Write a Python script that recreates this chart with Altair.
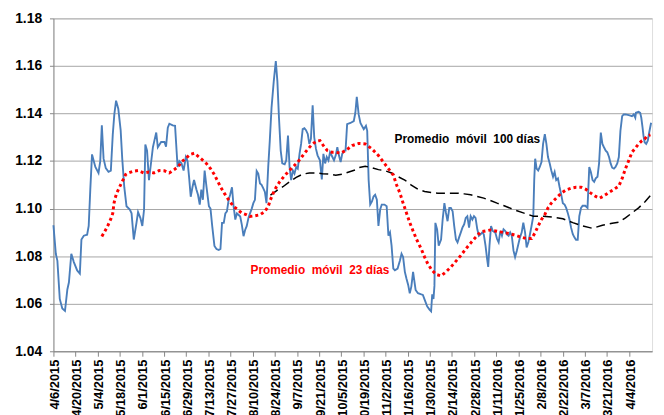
import altair as alt
import pandas as pd

START = pd.Timestamp("2015-04-06")

# (days since 2015-04-06, value)
blue_points = [
    (0, 1.093), (1.5, 1.081), (2.5, 1.078), (4, 1.062), (5.6, 1.058), (7.3, 1.057), (8.8, 1.066), (9.8, 1.069),
    (11.3, 1.081), (12.9, 1.0775), (15, 1.074), (16.7, 1.0727), (17.7, 1.087), (19.2, 1.0886), (21.3, 1.089),
    (22.3, 1.0927), (23.3, 1.108), (24.4, 1.1228), (26.5, 1.1175), (28.5, 1.115), (29.6, 1.120), (30.6, 1.135),
    (31.7, 1.121), (33.1, 1.117), (34.8, 1.1155), (36.3, 1.116), (37.5, 1.131), (38.5, 1.1396), (39.6, 1.1454),
    (41, 1.142), (42.5, 1.133), (43.5, 1.121), (44.8, 1.109), (46.2, 1.101), (48.3, 1.0996), (49.4, 1.098),
    (50.8, 1.087), (52.5, 1.094), (53.5, 1.0985), (55, 1.096), (56.2, 1.0927), (57.3, 1.0996), (58.1, 1.127),
    (59.2, 1.1244), (60.4, 1.112), (61.4, 1.1175), (62.9, 1.1258), (63.9, 1.1288), (65, 1.132), (66, 1.1258),
    (68.1, 1.128), (70.2, 1.128), (71.2, 1.126), (72.3, 1.134), (73.3, 1.1357), (75.4, 1.135), (76.9, 1.1348),
    (78.5, 1.1175), (79.6, 1.120), (81, 1.119), (82.3, 1.116), (83.7, 1.1217), (84.8, 1.120), (85.8, 1.113),
    (86.8, 1.105), (87.9, 1.109), (88.9, 1.112), (90.4, 1.108), (91.4, 1.1058), (92.5, 1.1017), (93.5, 1.108),
    (94.5, 1.1037), (95.6, 1.116), (96.8, 1.109), (98.3, 1.101), (99.3, 1.100), (100.4, 1.0926), (101.8, 1.0843),
    (103.1, 1.083), (104.5, 1.0826), (105.6, 1.083), (106.6, 1.094), (107.7, 1.094), (108.7, 1.098), (109.7, 1.0988),
    (110.8, 1.1037), (111.8, 1.106), (112.9, 1.109), (113.9, 1.101), (115.0, 1.0954), (116.0, 1.098), (117.0, 1.0974),
    (118.1, 1.0967), (119.1, 1.0933), (120.2, 1.0884), (121.2, 1.091), (122.2, 1.0926), (123.3, 1.096), (124.3, 1.098),
    (125.4, 1.100), (126.4, 1.1023), (127.4, 1.1037), (128.5, 1.1158), (129.5, 1.1147), (130.6, 1.1106), (131.6, 1.110),
    (132.7, 1.1085), (133.7, 1.107), (134.7, 1.1023), (135.8, 1.1175), (136.8, 1.1286), (137.9, 1.1424), (139.3, 1.1535),
    (140.6, 1.162), (141.6, 1.1535), (142.6, 1.1383), (143.7, 1.1244), (144.7, 1.119), (146.2, 1.1186), (147.2, 1.1203),
    (148.3, 1.1307), (149.3, 1.1175), (150.3, 1.112), (151.4, 1.116), (152.4, 1.1147), (153.5, 1.1175), (154.5, 1.1168),
    (155.6, 1.123), (156.6, 1.1272), (157.6, 1.1334), (158.7, 1.1338), (159.7, 1.133), (160.8, 1.1314), (161.8, 1.1272),
    (162.8, 1.1293), (163.9, 1.1434), (164.9, 1.130), (166.0, 1.1251), (167.0, 1.1224), (168.5, 1.1203), (169.7, 1.1123),
    (170.7, 1.123), (171.8, 1.119), (172.8, 1.1217), (173.9, 1.1203), (174.9, 1.1237), (176.4, 1.1217), (177.4, 1.1203),
    (178.5, 1.1224), (179.5, 1.1258), (180.5, 1.1224), (181.6, 1.1196), (182.6, 1.123), (183.7, 1.1244), (184.7, 1.1244),
    (185.7, 1.1355), (187.8, 1.136), (189.9, 1.1368), (190.9, 1.1403), (191.8, 1.147), (193.0, 1.1396), (194.1, 1.136),
    (196.2, 1.1334), (197.6, 1.1348), (198.4, 1.1327), (199.3, 1.112), (200.3, 1.1017), (201.4, 1.103), (202.4, 1.1051),
    (203.4, 1.1058), (204.5, 1.1037), (205.5, 1.0927), (206.6, 1.0996), (207.6, 1.1017), (209.3, 1.1017), (210.7, 1.101),
    (211.8, 1.0886), (212.8, 1.09), (213.8, 1.0844), (214.9, 1.0748), (215.9, 1.0741), (217.6, 1.0748), (219.1, 1.0782),
    (220.1, 1.081), (221.1, 1.0796), (222.2, 1.0734), (223.2, 1.0706), (224.3, 1.0679), (225.3, 1.0644), (226.3, 1.0672),
    (227.4, 1.0734), (228.0, 1.0706), (229.0, 1.0658), (230.5, 1.0644), (232.2, 1.064), (233.6, 1.0637), (234.7, 1.0617),
    (236.3, 1.0589), (237.8, 1.0575), (238.8, 1.0568), (239.5, 1.064), (240.3, 1.062), (240.9, 1.0675), (241.5, 1.094),
    (242.6, 1.0913), (243.6, 1.0844), (245.1, 1.087), (246.1, 1.0954), (247.2, 1.1023), (248.2, 1.0982), (249.2, 1.0947),
    (250.3, 1.1003), (251.3, 1.1003), (252.4, 1.0989), (253.4, 1.0927), (254.5, 1.087), (255.5, 1.0858), (256.5, 1.0879),
    (257.6, 1.09), (258.6, 1.092), (259.7, 1.0934), (260.7, 1.0961), (261.7, 1.0968), (262.8, 1.092), (263.8, 1.0968),
    (264.9, 1.0954), (265.9, 1.0968), (266.9, 1.0961), (268.0, 1.0913), (269.0, 1.0886), (270.1, 1.0892), (271.1, 1.09),
    (272.1, 1.0892), (273.2, 1.0844), (274.2, 1.0789), (274.9, 1.0755), (275.7, 1.0844), (276.7, 1.0927), (277.8, 1.0906),
    (279.4, 1.0899), (280.5, 1.0872), (281.5, 1.0858), (282.6, 1.0906), (283.6, 1.0886), (284.6, 1.0913), (285.7, 1.0906),
    (286.7, 1.0892), (287.8, 1.0886), (288.8, 1.09), (289.8, 1.0886), (290.9, 1.0823), (291.9, 1.0796), (293.0, 1.0823),
    (294.0, 1.0851), (295.0, 1.0879), (296.1, 1.09), (297.1, 1.0941), (298.2, 1.09), (299.2, 1.0837), (300.3, 1.0858),
    (301.3, 1.0892), (302.3, 1.0927), (303.4, 1.0968), (304.0, 1.112), (304.6, 1.121), (305.5, 1.1168), (306.5, 1.116),
    (307.5, 1.1175), (308.6, 1.1196), (309.6, 1.1272), (310.7, 1.1313), (311.7, 1.1272), (312.7, 1.1217), (313.8, 1.119),
    (314.8, 1.116), (315.9, 1.1134), (316.9, 1.1154), (317.9, 1.112), (319.0, 1.1127), (320.0, 1.1092), (321.1, 1.1058),
    (322.1, 1.1023), (323.2, 1.1017), (324.2, 1.1003), (325.2, 1.0982), (326.3, 1.0954), (327.3, 1.092), (328.4, 1.0892),
    (329.4, 1.0879), (330.4, 1.0869), (331.5, 1.0869), (332.5, 1.0968), (333.6, 1.1003), (334.6, 1.1012), (336.3, 1.1012),
    (337.7, 1.1003), (338.8, 1.1175), (339.8, 1.1154), (340.9, 1.112), (341.9, 1.1113), (342.9, 1.1127), (344.0, 1.1134),
    (345.0, 1.119), (346.1, 1.132), (347.1, 1.1272), (348.1, 1.1258), (349.2, 1.1244), (350.2, 1.1237), (351.3, 1.1217),
    (352.3, 1.119), (353.3, 1.1172), (354.4, 1.1168), (355.4, 1.1175), (356.5, 1.119), (357.5, 1.1217), (358.5, 1.1327),
    (359.6, 1.1389), (360.6, 1.1396), (361.7, 1.1396), (363.8, 1.1393), (365.8, 1.1389), (366.9, 1.1396), (367.9, 1.1382),
    (368.3, 1.1403), (370.0, 1.1407), (371.0, 1.1403), (371.7, 1.1382), (372.5, 1.1341), (373.1, 1.1306), (373.8, 1.1279),
    (374.8, 1.1272), (375.8, 1.1286), (376.7, 1.132), (377.9, 1.1361),
]

ma23_points = [
    (30.6, 1.0883), (32.1, 1.090), (33.8, 1.092), (35.2, 1.094), (36.5, 1.096), (37.5, 1.098), (38.3, 1.1023),
    (39, 1.1044), (40, 1.1065), (41.5, 1.1086), (42.7, 1.1103), (44.2, 1.1123), (45.6, 1.1143), (47.3, 1.115),
    (50.4, 1.1157), (53.5, 1.116), (57.1, 1.115), (60.4, 1.1154), (63.5, 1.115), (66.9, 1.116), (70.2, 1.1159),
    (73.3, 1.115), (76.4, 1.1164), (79.1, 1.1178), (81, 1.1196), (83.7, 1.1212), (86.4, 1.1228), (89.1, 1.1233),
    (92, 1.1217), (94.5, 1.1203), (96.8, 1.1189), (99.3, 1.1168), (101.4, 1.1147), (103.5, 1.112), (105.6, 1.1092),
    (108.1, 1.1064), (110.8, 1.1037), (113.5, 1.1012), (116, 1.0998), (119.1, 1.0981), (122.2, 1.0974),
    (124.3, 1.0967), (127.4, 1.097), (130.6, 1.0974), (133.7, 1.0988), (135.8, 1.1009), (137.2, 1.1037),
    (138.9, 1.1064), (141, 1.1092), (143.1, 1.1113), (145.6, 1.1134), (148.3, 1.1154), (151.4, 1.1175),
    (154.5, 1.1196), (157.2, 1.1219), (160.1, 1.1244), (162.8, 1.1265), (166, 1.1283), (168.5, 1.1286),
    (170.7, 1.1265), (173.2, 1.1244), (176, 1.1237), (178.5, 1.1237), (181.6, 1.1233), (184.7, 1.1244),
    (188.9, 1.1265), (193, 1.1274), (197.2, 1.1272), (201.4, 1.1251), (205.5, 1.1223), (208.6, 1.1196),
    (211.8, 1.1168), (214.9, 1.1141), (217, 1.1099), (219.1, 1.1065), (221.1, 1.1023), (223.2, 1.0982),
    (225.3, 1.0941), (227.4, 1.0906), (229.5, 1.0872), (232.6, 1.083), (234.7, 1.0796), (236.7, 1.0768),
    (239.3, 1.0741), (242, 1.0723), (245.1, 1.0717), (248.2, 1.0734), (251.3, 1.0754), (254.4, 1.0778),
    (257.6, 1.0803), (260.7, 1.083), (263.8, 1.0855), (266.9, 1.0879), (270.1, 1.0902), (273.2, 1.0906),
    (276.3, 1.091), (279.4, 1.0906), (282.6, 1.0902), (286.7, 1.0897), (289.8, 1.0892), (293, 1.0886),
    (296.1, 1.0879), (299.2, 1.0874), (302.3, 1.0874), (304.4, 1.0897), (306.5, 1.0927), (308.6, 1.0954),
    (310.7, 1.0975), (312.7, 1.1003), (314.8, 1.1023), (317.9, 1.1044), (321.1, 1.1065), (324.2, 1.1079),
    (327.3, 1.1086), (330.4, 1.109), (333.6, 1.109), (336.7, 1.1081), (339.8, 1.1065), (342.9, 1.1051),
    (345.4, 1.1044), (348.1, 1.1054), (351.3, 1.1068), (354.4, 1.1081), (357.5, 1.1095), (359.6, 1.1127),
    (361.7, 1.1168), (363.8, 1.1203), (365.8, 1.1237), (367.9, 1.1254), (370, 1.1272), (372.1, 1.1286),
    (373.8, 1.1292), (375.4, 1.1306), (377.5, 1.131),
]

ma100_points = [
    (137.2, 1.1057), (141, 1.1075), (145.1, 1.1092), (149.3, 1.1113), (153.5, 1.1131), (157.6, 1.1145),
    (161.8, 1.115), (166, 1.115), (170.1, 1.1147), (174.3, 1.1145), (178.5, 1.114), (182.6, 1.1145),
    (186.8, 1.1154), (190.9, 1.1163), (193, 1.1172), (197.2, 1.1178), (201.4, 1.1172), (205.5, 1.1164),
    (209.7, 1.1159), (213.8, 1.115), (218, 1.1134), (222.2, 1.112), (226.3, 1.1099), (230.5, 1.1081),
    (234.7, 1.1072), (238.8, 1.1068), (243, 1.1065), (247.2, 1.1065), (251.3, 1.1065), (255.5, 1.1065),
    (259.7, 1.1062), (263.8, 1.1058), (268, 1.1051), (272.1, 1.1044), (276.3, 1.1034), (280.5, 1.1023),
    (284.6, 1.1013), (290.9, 1.0996), (297.1, 1.0982), (303.4, 1.0968), (309.6, 1.0968), (315.9, 1.0964),
    (322.1, 1.0957), (328.4, 1.0941), (334.6, 1.0927), (340.9, 1.0917), (347.1, 1.093), (353.3, 1.0938),
    (357.5, 1.0943), (361.7, 1.0961), (365.8, 1.0982), (370, 1.1003), (374.2, 1.103), (377.9, 1.1058),
]

tick_dates = [
    "2015-04-06", "2015-04-20", "2015-05-04", "2015-05-18", "2015-06-01", "2015-06-15", "2015-06-29",
    "2015-07-13", "2015-07-27", "2015-08-10", "2015-08-24", "2015-09-07", "2015-09-21", "2015-10-05",
    "2015-10-19", "2015-11-02", "2015-11-16", "2015-11-30", "2015-12-14", "2015-12-28", "2016-01-11",
    "2016-01-25", "2016-02-08", "2016-02-22", "2016-03-07", "2016-03-21", "2016-04-04",
]
y_ticks = [1.04, 1.06, 1.08, 1.10, 1.12, 1.14, 1.16, 1.18]

label_texts = ["Promedio\u00a0 móvil\u00a0 100 días", "Promedio\u00a0 móvil\u00a0 23 días"]
label_days = [261.7, 168.5]
label_values = [1.1291, 1.0743]
label_colors = ["#000000", "#ff0000"]


def frame(points):
    df = pd.DataFrame(points, columns=["day", "value"])
    df["date"] = START + pd.to_timedelta(df["day"], unit="D")
    return df[["date", "value"]]


def dt(s):
    t = pd.Timestamp(s)
    return alt.DateTime(year=t.year, month=t.month, date=t.day)


blue_df = frame(blue_points)
ma23_df = frame(ma23_points)
ma100_df = frame(ma100_points)
lab_df = pd.DataFrame({"text": label_texts, "value": label_values, "color": label_colors})
lab_df["date"] = START + pd.to_timedelta(pd.Series(label_days), unit="D")

FONT = "Liberation Sans"

x_enc = alt.X(
    "date:T",
    scale=alt.Scale(domain=[dt("2015-04-06"), alt.DateTime(year=2016, month=4, date=18, hours=12)]),
    axis=alt.Axis(
        values=[dt(s) for s in tick_dates],
        format="%-m/%-d/%Y",
        labelAngle=270,
        labelFont=FONT,
        labelFontSize=13,
        labelFontWeight="bold",
        labelColor="#000000",
        labelPadding=3,
        labelOffset=1,
        labelOverlap=False,
        labelFlush=False,
        tickSize=5,
        tickColor="#868686",
        domainColor="#868686",
        grid=False,
        title=None,
    ),
)
y_enc = alt.Y(
    "value:Q",
    scale=alt.Scale(domain=[1.04, 1.18], nice=False, zero=False),
    axis=alt.Axis(
        values=y_ticks,
        format=".2f",
        labelFont=FONT,
        labelFontSize=14,
        labelFontWeight="bold",
        labelColor="#000000",
        labelPadding=8,
        tickSize=4,
        tickColor="#868686",
        domainColor="#868686",
        grid=True,
        gridColor="#a6a6a6",
        gridWidth=1,
        title=None,
    ),
)

blue = alt.Chart(blue_df).mark_line(color="#4a7ebb", strokeWidth=1.9).encode(x=x_enc, y=y_enc)
black = alt.Chart(ma100_df).mark_line(color="#000000", strokeWidth=1.5, strokeDash=[9, 5]).encode(x=x_enc, y=y_enc)
red = alt.Chart(ma23_df).mark_line(color="#ff0000", strokeWidth=3, strokeDash=[3, 3], strokeCap="butt").encode(
    x=x_enc, y=y_enc
)
text = alt.Chart(lab_df).mark_text(
    font=FONT, fontSize=12, fontWeight="bold", align="center", baseline="middle"
).encode(x=x_enc, y=y_enc, text="text:N", color=alt.Color("color:N", scale=None))

chart = (
    alt.layer(blue, black, red, text)
    .properties(
        width=606,
        height=337,
        autosize=alt.AutoSizeParams(type="none"),
        padding={"left": 46, "top": 8, "right": 4, "bottom": 62},
    )
    .configure_view(stroke=None)
    .configure(background="#ffffff")
)

chart.save("out.html", embed_options={"renderer": "svg", "actions": False})
